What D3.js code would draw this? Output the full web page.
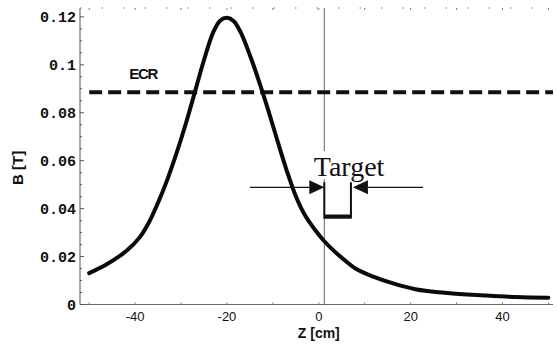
<!DOCTYPE html>
<html>
<head>
<meta charset="utf-8">
<script src="https://cdn.jsdelivr.net/npm/d3@7"></script>
<style>
  html, body { margin: 0; padding: 0; background: #fff; }
  svg { display: block; }
</style>
</head>
<body>
<svg id="chart" width="557" height="361"></svg>
<script>
// Axial magnetic field profile B(z)
const zCm = [-50, -46, -42, -39, -37, -35, -33, -31, -29, -27, -25, -23, -21.5, -20,
             -18.5, -17, -15, -13, -11, -9, -7, -5, -3, -1, 1, 3, 5, 8,
             12, 16, 21, 28, 36, 43, 50];
const bTesla = [0.0131, 0.0170, 0.0222, 0.0280, 0.0342, 0.0425, 0.0520, 0.0630, 0.0752, 0.0885, 0.1020, 0.1135, 0.1184, 0.1196,
                0.1182, 0.1135, 0.1040, 0.0930, 0.0810, 0.0683, 0.0560, 0.0452, 0.0372, 0.0316, 0.0268, 0.0229, 0.0195, 0.0150,
                0.0115, 0.0089, 0.0064, 0.0048, 0.0038, 0.0031, 0.0028];

// Electron cyclotron resonance field
const ecrField = 0.0885;
const ecrLabel = "ECR";

// Target position along z and the marker geometry (in data units)
const targetStart = 1.2;
const targetEnd = 7.0;
const targetLabelZ = 6.6;
const targetArrowLeft = -15.0;
const targetArrowRight = 22.7;
const targetArrowB = 0.0489;
const targetTopB = 0.0510;
const targetBottomB = 0.0363;
const targetLabel = "Target";

const xTicks = [-40, -20, 0, 20, 40];
const yTicks = [0, 0.02, 0.04, 0.06, 0.08, 0.1, 0.12];
const yTickLabels = ["0", "0.02", "0.04", "0.06", "0.08", "0.1", "0.12"];
const xTitle = "Z [cm]";
const yTitle = "B [T]";

const svg = d3.select("#chart");
const x = d3.scaleLinear().domain([-52, 51]).range([80, 553]);
const y = d3.scaleLinear().domain([0, 0.1237]).range([304.5, 8]);

// Frame: solid left and bottom axes, dotted top edge
svg.append("line").attr("x1", x(-52)).attr("x2", x(-52)).attr("y1", y(0.1237)).attr("y2", y(0))
  .attr("stroke", "#555").attr("stroke-width", 1);
svg.append("line").attr("x1", x(-52)).attr("x2", x(51)).attr("y1", y(0)).attr("y2", y(0))
  .attr("stroke", "#666").attr("stroke-width", 1);
svg.append("line").attr("x1", x(-52)).attr("x2", x(51)).attr("y1", y(0.1237)).attr("y2", y(0.1237))
  .attr("stroke", "#777").attr("stroke-width", 1).attr("stroke-dasharray", "1.5,20");

// Y axis ticks (major and minor, pointing inward)
const yMinor = d3.range(0, 0.1237, 0.005);
svg.append("g").selectAll("line").data(yMinor).join("line")
  .attr("x1", x(-52)).attr("x2", (d, i) => x(-52) + (i % 4 === 0 ? 4 : 2))
  .attr("y1", d => y(d)).attr("y2", d => y(d))
  .attr("stroke", "#555").attr("stroke-width", 1);

// X axis ticks (minor, pointing inward) on bottom and top edges
svg.append("g").selectAll("line").data(d3.range(-50, 51, 10)).join("line")
  .attr("x1", d => x(d)).attr("x2", d => x(d))
  .attr("y1", y(0)).attr("y2", y(0) - 2)
  .attr("stroke", "#777").attr("stroke-width", 1);
svg.append("g").selectAll("line").data(d3.range(-50, 51, 10)).join("line")
  .attr("x1", d => x(d)).attr("x2", d => x(d))
  .attr("y1", y(0.1237)).attr("y2", y(0.1237) + 2)
  .attr("stroke", "#777").attr("stroke-width", 1);

// Tick labels
svg.append("g").selectAll("text").data(yTicks).join("text")
  .attr("x", x(-52) - 4).attr("y", d => y(d)).attr("dy", "0.36em")
  .attr("text-anchor", "end")
  .attr("font-family", "'Liberation Mono', monospace").attr("font-weight", "bold")
  .attr("font-size", 15).attr("fill", "#111")
  .text((d, i) => yTickLabels[i]);

svg.append("g").selectAll("text").data(xTicks).join("text")
  .attr("x", d => x(d)).attr("y", 321)
  .attr("text-anchor", "middle")
  .attr("font-family", "'Liberation Sans', sans-serif")
  .attr("font-size", 13).attr("fill", "#111")
  .text(d => d);

// Axis titles
svg.append("text").attr("x", x(0)).attr("y", 338).attr("text-anchor", "middle")
  .attr("font-family", "'Liberation Sans', Arial, sans-serif").attr("font-weight", "bold")
  .attr("font-size", 14).attr("fill", "#111").text(xTitle);
svg.append("text").attr("transform", `translate(23,${y(0.057)}) rotate(-90)`).attr("text-anchor", "middle")
  .attr("font-family", "'Liberation Sans', Arial, sans-serif").attr("font-weight", "bold")
  .attr("font-size", 15).attr("fill", "#111").text(yTitle);

// Target reference line along z = targetStart
svg.append("line").attr("x1", x(targetStart)).attr("x2", x(targetStart))
  .attr("y1", y(0.1237)).attr("y2", y(0))
  .attr("stroke", "#555").attr("stroke-width", 0.9);

// ECR resonance level
svg.append("line").attr("x1", x(-50)).attr("x2", x(51)).attr("y1", y(ecrField)).attr("y2", y(ecrField))
  .attr("stroke", "#111").attr("stroke-width", 4).attr("stroke-dasharray", "13,6");
svg.append("text").attr("x", x(-41.3)).attr("y", y(ecrField) - 13)
  .attr("font-family", "'Liberation Sans', Arial, sans-serif").attr("font-weight", "bold")
  .attr("font-size", 15).attr("letter-spacing", -1.2).attr("fill", "#111").text(ecrLabel);

// Field profile
const line = d3.line().x((d, i) => x(zCm[i])).y(d => y(d)).curve(d3.curveCatmullRom.alpha(0.5));
svg.append("path").datum(bTesla).attr("d", line)
  .attr("fill", "none").attr("stroke", "#0a0a0a").attr("stroke-width", 4)
  .attr("stroke-linecap", "round").attr("stroke-linejoin", "round");

// Target label, cleared behind
const label = svg.append("text").attr("x", x(targetLabelZ)).attr("y", 176)
  .attr("text-anchor", "middle")
  .attr("font-family", "'Liberation Serif', 'Times New Roman', serif")
  .attr("font-size", 28).attr("fill", "#111").text(targetLabel);
const bb = label.node().getBBox();
svg.insert("rect", () => label.node())
  .attr("x", bb.x).attr("y", bb.y).attr("width", bb.width).attr("height", bb.height - 3)
  .attr("fill", "#fff");

// Target bracket
svg.append("path")
  .attr("d", `M${x(targetStart)},${y(targetTopB)} V${y(targetBottomB)} H${x(targetEnd)} V${y(targetTopB)}`)
  .attr("fill", "none").attr("stroke", "#111").attr("stroke-width", 2);
svg.append("line").attr("x1", x(targetStart)).attr("x2", x(targetEnd))
  .attr("y1", y(targetBottomB) - 1).attr("y2", y(targetBottomB) - 1)
  .attr("stroke", "#111").attr("stroke-width", 4);

// Arrows pointing at the target from both sides
const ay = y(targetArrowB);
const headL = 15, headH = 7;
svg.append("line").attr("x1", x(targetArrowLeft)).attr("x2", x(targetStart) - headL).attr("y1", ay).attr("y2", ay)
  .attr("stroke", "#111").attr("stroke-width", 1.3);
svg.append("path").attr("d", `M${x(targetStart)},${ay} L${x(targetStart) - headL},${ay - headH} L${x(targetStart) - headL},${ay + headH} Z`)
  .attr("fill", "#111");
const rTip = x(targetEnd) + 2;
svg.append("line").attr("x1", rTip + headL).attr("x2", x(targetArrowRight)).attr("y1", ay).attr("y2", ay)
  .attr("stroke", "#111").attr("stroke-width", 1.3);
svg.append("path").attr("d", `M${rTip},${ay} L${rTip + headL},${ay - headH} L${rTip + headL},${ay + headH} Z`)
  .attr("fill", "#111");
</script>
</body>
</html>
